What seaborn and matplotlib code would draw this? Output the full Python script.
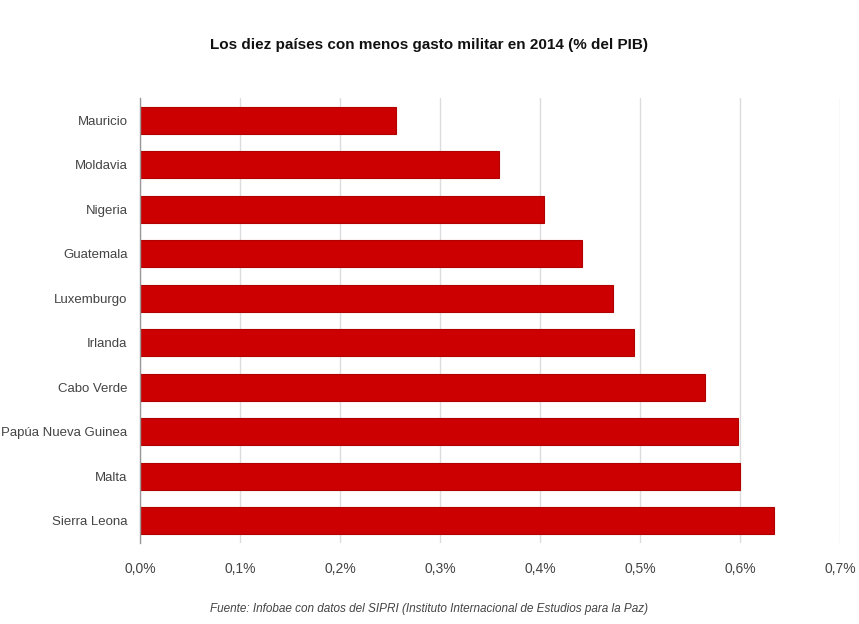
import matplotlib
matplotlib.use("Agg")
import matplotlib.pyplot as plt
import seaborn as sns
import pandas as pd
from matplotlib.ticker import FuncFormatter

paises = ["Mauricio", "Moldavia", "Nigeria", "Guatemala", "Luxemburgo", "Irlanda",
          "Cabo Verde", "Papúa Nueva Guinea", "Malta", "Sierra Leona"]
gasto = [0.256, 0.359, 0.404, 0.442, 0.473, 0.494, 0.565, 0.598, 0.600, 0.634]
ticks = [0.0, 0.1, 0.2, 0.3, 0.4, 0.5, 0.6, 0.7]

df = pd.DataFrame({"pais": paises, "gasto": gasto})

sns.set_theme(style="white")
plt.rcParams["font.family"] = ["Liberation Sans", "DejaVu Sans"]

fig = plt.figure(figsize=(8.59, 6.24), dpi=100)
ax = fig.add_axes([140/859, 1 - 543/624, 700/859, 445/624])

sns.barplot(data=df, x="gasto", y="pais", color="#cc0000", saturation=1,
            width=0.6, edgecolor="#b00000", linewidth=0.8, ax=ax, zorder=3)

ax.set_xlim(0, 0.7)
ax.set_ylim(9.5, -0.5)
ax.set_xticks(ticks)
ax.xaxis.set_major_formatter(FuncFormatter(lambda v, p: f"{v:.1f}%".replace(".", ",")))
ax.grid(axis="x", color="#dcdcdc", linewidth=1, zorder=0)
ax.grid(axis="y", visible=False)
for s in ["top", "right", "bottom"]:
    ax.spines[s].set_visible(False)
ax.spines["left"].set_color("#9a9a9a")
ax.spines["left"].set_linewidth(1)
ax.spines["left"].set_zorder(4)
ax.set_xlabel("")
ax.set_ylabel("")
ax.tick_params(axis="both", length=0, labelcolor="#444444")
ax.tick_params(axis="x", pad=14, labelsize=10)
ax.tick_params(axis="y", pad=9, labelsize=9.5)

fig.text(0.5, 1 - 45/624, "Los diez países con menos gasto militar en 2014 (% del PIB)",
         ha="center", va="center", fontsize=11, fontweight="bold", color="#111111")
fig.text(0.5, 1 - 609/624,
         "Fuente: Infobae con datos del SIPRI (Instituto Internacional de Estudios para la Paz)",
         ha="center", va="center", fontsize=8.5, style="italic", color="#444444")

fig.savefig("out.png", dpi=100, facecolor="white")
